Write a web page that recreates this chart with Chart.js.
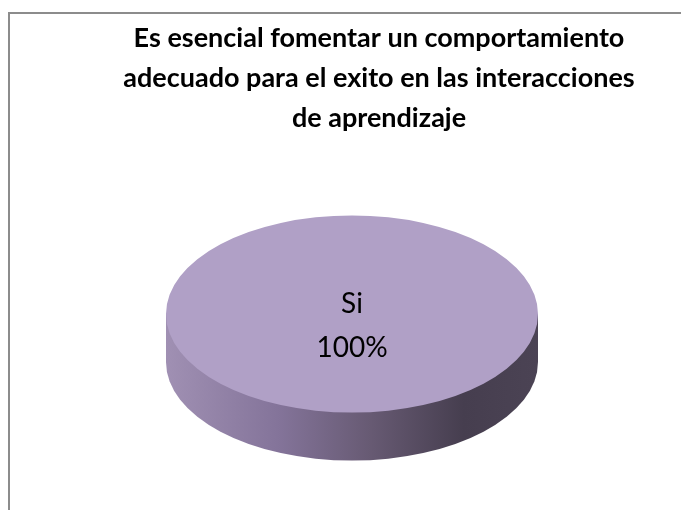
<!DOCTYPE html>
<html>
<head>
<meta charset="utf-8">
<script src="https://cdn.jsdelivr.net/npm/chart.js@4"></script>
<style>
  html, body { margin: 0; padding: 0; background: #fff; }
  #wrap { position: relative; width: 681px; height: 510px; overflow: hidden; }
  #frame { position: absolute; left: 8px; top: 12px; width: 700px; height: 520px; border: 2px solid #8c8c8c; box-sizing: border-box; }
  canvas { position: absolute; left: 0; top: 0; }
</style>
</head>
<body>
<div id="wrap">
  <div id="frame"></div>
  <canvas id="chart" width="681" height="510"></canvas>
</div>
<script>
const tituloLinhas = [
  "Es esencial fomentar un comportamiento",
  "adecuado para el exito en las interacciones",
  "de aprendizaje"
];
const categorias = ["Si"];
const valores = [100];
const cores = ["#b0a0c6"];

// aparencia 3D: achatamento, espessura e deslocamentos
const TILT = 0.53;
const DEPTH = 48;
const SHIFT_X = -27;
const LIFT = -10;

const pizza3d = {
  id: "pizza3d",
  beforeDatasetsDraw(chart) {
    const arc = chart.getDatasetMeta(0).data[0];
    if (!arc) return;
    const { x, y, outerRadius: r } = arc;
    const ctx = chart.ctx;
    const ex = x + SHIFT_X;
    const ey = y + LIFT;
    const ry = r * TILT;

    const grad = ctx.createLinearGradient(ex - r, 0, ex + r, 0);
    grad.addColorStop(0, "#a090b3");
    grad.addColorStop(0.3, "#84749a");
    grad.addColorStop(0.55, "#675a73");
    grad.addColorStop(0.8, "#463e4f");
    grad.addColorStop(1, "#4b4354");

    ctx.save();
    ctx.beginPath();
    ctx.moveTo(ex + r, ey);
    ctx.lineTo(ex + r, ey + DEPTH);
    ctx.ellipse(ex, ey + DEPTH, r, ry, 0, 0, Math.PI, false);
    ctx.lineTo(ex - r, ey);
    ctx.closePath();
    ctx.fillStyle = grad;
    ctx.fill();
    ctx.restore();

    // achata o disco de cima
    ctx.save();
    ctx.translate(SHIFT_X, ey);
    ctx.scale(1, TILT);
    ctx.translate(0, -y);
  },
  afterDatasetsDraw(chart) {
    const arc = chart.getDatasetMeta(0).data[0];
    if (!arc) return;
    const ctx = chart.ctx;
    ctx.restore();

    const total = valores.reduce((a, b) => a + b, 0);
    const ex = arc.x + SHIFT_X;
    const ey = arc.y + LIFT;
    ctx.save();
    ctx.fillStyle = "#000";
    ctx.font = "28px Lato, sans-serif";
    ctx.textAlign = "center";
    ctx.textBaseline = "middle";
    ctx.fillText(categorias[0], ex, ey - 10);
    ctx.fillText(Math.round((valores[0] / total) * 100) + "%", ex, ey + 34);
    ctx.restore();
  }
};

new Chart(document.getElementById("chart"), {
  type: "pie",
  data: {
    labels: categorias,
    datasets: [
      {
        data: valores,
        backgroundColor: cores,
        borderWidth: 0
      }
    ]
  },
  options: {
    responsive: false,
    animation: false,
    layout: {
      padding: { left: 77, right: 0, top: 0, bottom: 0 }
    },
    plugins: {
      legend: { display: false },
      tooltip: { enabled: false },
      title: {
        display: true,
        text: tituloLinhas,
        color: "#000",
        font: { family: "Lato, sans-serif", size: 27, weight: "bold", lineHeight: "40px" },
        padding: { top: 18, bottom: 0 }
      }
    }
  },
  plugins: [pizza3d]
});
</script>
</body>
</html>
